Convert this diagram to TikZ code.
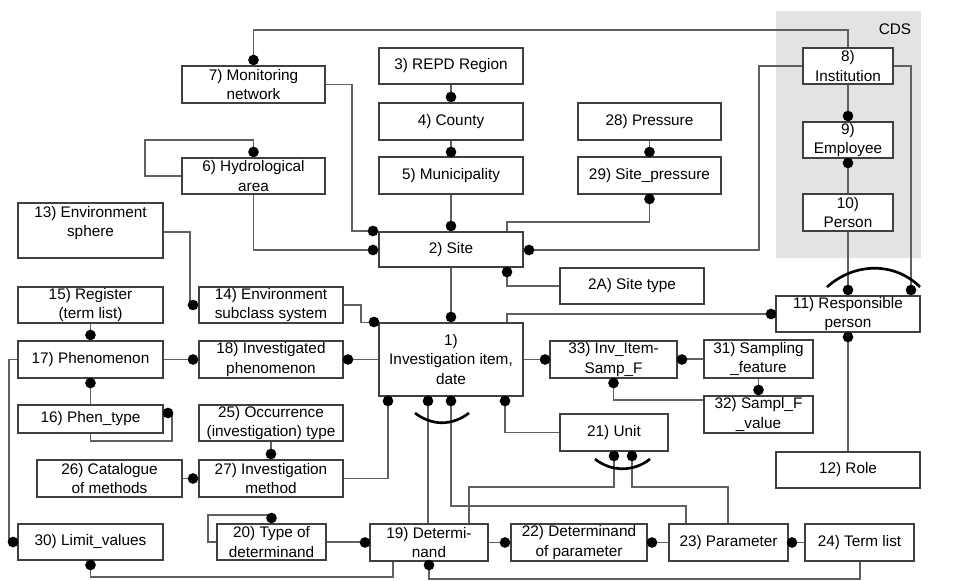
\documentclass[tikz,border=0pt]{standalone}
\usepackage{fontspec}
\setmainfont{Liberation Sans}
\definecolor{boxc}{HTML}{404040}
\definecolor{linec}{HTML}{606060}
\definecolor{cdsc}{HTML}{E3E3E3}
\tikzset{
  box/.style={draw=boxc, fill=white, line width=0.8pt, inner sep=0pt, align=center,
    font=\fontsize{11.5}{14.6}\selectfont},
  lbl/.style={inner sep=0pt, align=center, font=\fontsize{11.5}{14.6}\selectfont},
  conn/.style={draw=linec, line width=0.8pt},
  xarc/.style={draw=black, line width=2pt},
}
\newcommand\bx[6]{\node[box, minimum width={(#4-#2)*0.75pt}, minimum height={(#5-#3)*0.75pt}] (#1) at ({(#2+#4)/2},{(#3+#5)/2}) {#6};}
\newcommand\dt[2]{\fill[black] (#1,#2) circle (4pt);}
\begin{document}
\begin{tikzpicture}[x=0.75pt,y=-0.75pt]
\useasboundingbox (0,0) rectangle (961,581);
% CDS area
\fill[cdsc] (776,11) rectangle (921,258);
\node[lbl] (cds) at (895,29) {CDS};
% nodes
\bx{n7}{182}{66}{325}{103}{7) Monitoring\\network}
\bx{n6}{182}{158}{325}{194}{6) Hydrological\\area}
\bx{n3}{379}{48}{523}{84}{3) REPD Region}
\bx{n4}{379}{103}{523}{140}{4) County}
\bx{n5}{379}{157}{523}{194}{5) Municipality}
\bx{n28}{578}{103}{721}{140}{28) Pressure}
\bx{n29}{578}{157}{721}{194}{29) Site\_pressure}
\bx{n8}{803}{48}{893}{84}{8)\\Institution}
\bx{n9}{803}{122}{893}{158}{9)\\Employee}
\bx{n10}{803}{194}{893}{231}{10)\\Person}
\bx{n13}{18}{203}{163}{258}{}
\node[lbl, anchor=north] (t13) at ([yshift=-2.5pt]n13.north) {13) Environment\\sphere};
\bx{n2}{379}{232}{523}{267}{2) Site}
\bx{n2A}{560}{268}{704}{304}{2A) Site type}
\bx{n15}{18}{287}{163}{323}{15) Register\\(term list)}
\bx{n14}{199}{287}{343}{323}{14) Environment\\subclass system}
\bx{n11}{776}{296}{920}{332}{11) Responsible\\person}
\bx{n1}{379}{323}{523}{396}{1)\\Investigation item,\\date}
\bx{n17}{18}{341}{163}{378}{17) Phenomenon}
\bx{n18}{199}{341}{343}{378}{18) Investigated\\phenomenon}
\bx{n33}{550}{341}{677}{378}{33) Inv\_Item-\\Samp\_F}
\bx{n31}{704}{340}{813}{378}{31) Sampling\\\_feature}
\bx{n32}{704}{396}{813}{433}{32) Sampl\_F\\\_value}
\bx{n16}{18}{405}{163}{433}{16) Phen\_type}
\bx{n25}{199}{405}{343}{441}{25) Occurrence\\(investigation) type}
\bx{n21}{560}{414}{668}{451}{21) Unit}
\bx{n12}{776}{452}{920}{488}{12) Role}
\bx{n26}{37}{460}{182}{497}{26) Catalogue\\of methods}
\bx{n27}{199}{460}{343}{497}{27) Investigation\\method}
\bx{n30}{18}{524}{163}{560}{30) Limit\_values}
\bx{n20}{217}{524}{326}{560}{20) Type of\\determinand}
\bx{n19}{370}{524}{488}{561}{19) Determi-\\nand}
\bx{n22}{511}{524}{647}{561}{22) Determinand\\of parameter}
\bx{n23}{669}{524}{788}{561}{23) Parameter}
\bx{n24}{805}{524}{914}{561}{24) Term list}
% connectors
\begin{scope}[on background layer/.style={}]
\draw[conn] (n7.north) -- (253.5,30) -| (n8.north);
\draw[conn] (n7.east) -- (352,84.5) |- (n2.west |- 0,231);
\draw[conn] (n6.south) |- (n2.west |- 0,250);
\draw[conn] (n6.west) -- (145,176) |- (253.5,140) -- (n6.north);
\draw[conn] (n3.south) -- (n4.north);
\draw[conn] (n4.south) -- (n5.north);
\draw[conn] (n5.south) -- (n2.north);
\draw[conn] (n28.south) -- (n29.north);
\draw[conn] (n2.north -| 507,0) |- (649.5,222) -- (n29.south);
\draw[conn] (n8.west) -- (759,66) |- (n2.east |- 0,250);
\draw[conn] (n8.south) -- (n9.north);
\draw[conn] (n9.south) -- (n10.north);
\draw[conn] (n10.south) -- (n11.north);
\draw[conn] (n8.east) -- (911,66) -- (n11.north -| 911,0);
\draw[conn] (n2.south -| 507,0) |- (n2A.west);
\draw[conn] (n2.south) -- (n1.north);
\draw[conn] (n1.north -| 507,0) |- (n11.west);
\draw[conn] (n11.south) -- (n12.north);
\draw[conn] (n13.east |- 0,232) -- (190,232) |- (n14.west);
\draw[conn] (n14.east) -- (361,305) |- (n1.north west);
\draw[conn] (n15.south) -- (n17.north);
\draw[conn] (n17.east) -- (n18.west);
\draw[conn] (n18.east) -- (n1.west |- n18.east);
\draw[conn] (n1.east) -- (n33.west);
\draw[conn] (n31.west) -- (n33.east |- n31.west);
\draw[conn] (n31.south) -- (n32.north);
\draw[conn] (n33.south) |- (n32.west |- 0,400);
\draw[conn] (n17.south) -- (n16.north);
\draw[conn] (n16.east |- 0,413) -- (172,413) |- (90.5,441) -- (n16.south);
\draw[conn] (n17.west) -- (9,359.5) |- (n30.west);
\draw[conn] (n25.south) -- (n27.north);
\draw[conn] (n26.east) -- (n27.west);
\draw[conn] (n27.east) -- (388,478.5) -- (n1.south -| 388,0);
\draw[conn] (n1.south -| 428,0) -- (n19.north -| 428,0);
\draw[conn] (n1.south -| 451,0) -- (451,506) -| (n23.north -| 686,0);
\draw[conn] (n1.south -| 505,0) |- (n21.west);
\draw[conn] (n21.south -| 614,0) -- (614,487) -| (n19.north -| 469,0);
\draw[conn] (n21.south -| 632,0) -- (632,487) -| (n23.north -| 728,0);
\draw[conn] (n20.west) -- (208,542) |- (271.5,515) -- (n20.north);
\draw[conn] (n20.east) -- (n19.west |- n20.east);
\draw[conn] (n19.east) -- (n22.west);
\draw[conn] (n23.west) -- (n22.east);
\draw[conn] (n24.west) -- (n23.east);
\draw[conn] (n19.south -| 393,0) |- (90.5,577) -- (n30.south);
\draw[conn] (n24.south -| 860,0) |- (429,579) -- (n19.south -| 429,0);
\end{scope}
% exclusive arcs
\draw[xarc] (827,287) .. controls (855,262) and (895,262) .. (920,287);
\draw[xarc] (415,413) .. controls (432,426) and (452,426) .. (469,413);
\draw[xarc] (595,459) .. controls (611,472) and (634,472) .. (650,459);
% dots
\dt{253.5}{60}
\dt{373}{231}
\dt{373}{250}
\dt{253.5}{152}
\dt{451}{97}
\dt{451}{152}
\dt{451}{226}
\dt{649.5}{152}
\dt{649.5}{199}
\dt{529}{250}
\dt{848}{116}
\dt{848}{163}
\dt{848}{290}
\dt{911}{290}
\dt{507}{272}
\dt{451}{317}
\dt{771}{314}
\dt{848}{337}
\dt{193}{305}
\dt{374}{322}
\dt{90.5}{335}
\dt{193}{359.5}
\dt{348}{359.5}
\dt{545}{359.5}
\dt{682}{359.5}
\dt{758.5}{390}
\dt{613.5}{383}
\dt{90.5}{383}
\dt{168}{413}
\dt{13}{542}
\dt{271}{454}
\dt{193}{478.5}
\dt{388}{401}
\dt{428}{401}
\dt{451}{401}
\dt{505}{401}
\dt{614}{456}
\dt{632}{456}
\dt{271.5}{518}
\dt{365}{542.5}
\dt{505}{542.5}
\dt{652}{542.5}
\dt{792}{542.5}
\dt{90.5}{565}
\dt{429}{565}
\end{tikzpicture}
\end{document}
